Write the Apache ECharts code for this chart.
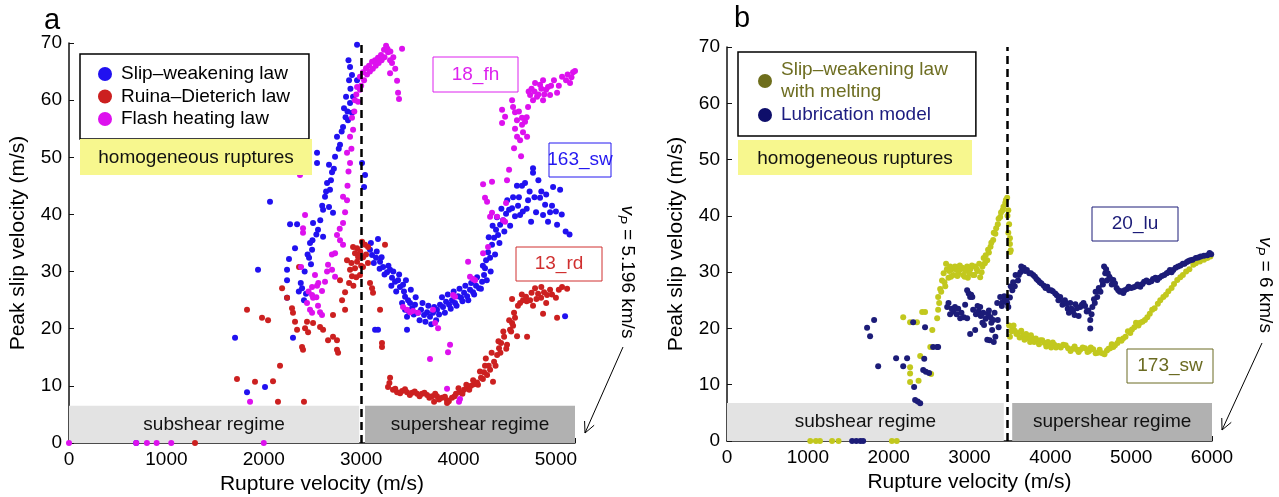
<!DOCTYPE html>
<html>
<head>
<meta charset="utf-8">
<script src="https://cdn.jsdelivr.net/npm/echarts@6/dist/echarts.min.js"></script>
<style>
html, body { margin: 0; padding: 0; background: #fff; }
#main { width: 1279px; height: 497px; }
</style>
</head>
<body>
<div id="main"></div>
<script>
// rupture speed limits (m/s)
var vsA = 3000, vpA = 5196;
var vsB = 3464, vpB = 6000;

// panel a : [rupture velocity, peak slip velocity]
var swPoints = [
    [690,0],[1705,18.4],[1828,8.9],[2013,9.8],[1941,30.3],[2064,42.2],
    [2958,69.7],[2886,65.8],[2906,64.4],[2876,63.5],[2958,63.5],[2845,60.6],[2917,60.6],[2886,59.5],
    [2824,58.6],[2906,57.8],[2865,56.5],[2814,55.3],[2752,53.6],[2783,52.2],[2732,50.1],
    [2547,50.8],[2547,49.0],[2670,48.7],[2701,47.4],[2650,45.5],[2680,44.3],[2629,43.1],
    [2609,40.8],[2670,41.3],[2711,40.3],[2270,38.3],[2342,38.3],[2506,38.5],[2557,37.3],
    [2609,36.1],[2475,35.0],[2496,33.8],[2321,34.1],[2465,32.4],[2485,31.3],[2259,32.2],
    [2239,30.3],[2239,28.5],[2393,27.1],[2434,26.1],[2413,25.0],[2239,25.4],[2300,18.4],
    [2870,67],[2890,62],[2860,58],[2840,57],[2800,54.5],[2770,51.5],[2720,48],[2690,46],
    [2640,44],[2600,41.5],[2580,39],[2540,36.5],[2500,35.5],[2450,33],[2420,30],[2380,28],[2360,26.5],
    [3009,49.0],[3040,46.9],[3030,44.8],[3143,19.8],
    [3091,33.8],[3112,32.9],[3173,35.7],[3153,32.4],[3194,31.7],[3225,30.8],[3266,29.9],
    [3297,30.3],[3317,28.9],[3348,28.2],[3379,28.5],[3399,27.3],[3430,27.7],[3451,25.6],
    [3482,25.0],[3502,24.5],[3451,23.3],[3523,23.6],[3471,22.1],[3553,24.2],[3584,22.8],
    [3615,23.3],[3646,22.4],[3677,22.9],[3707,22.1],[3738,22.8],[3779,23.3],[3810,24.2],
    [3841,23.8],[3872,24.7],[3903,24.2],[3933,25.0],[3964,24.5],[3995,25.7],[4026,25.4],
    [4057,26.3],[4088,25.7],[4118,26.8],[4149,26.4],[4180,27.5],[4211,27.1],[4242,28.2],
    [4262,29.4],[4272,30.6],[4283,32.0],[4303,33.4],[4324,32.4],[4344,34.7],[4365,35.9],
    [4385,37.3],[4406,36.4],[4427,38.2],[4457,39.0],[4488,40.1],[4519,40.8],[4550,41.1],
    [4580,39.7],[4611,41.5],[4632,39.9],[4652,45.0],[4683,45.5],[4714,42.5],[4765,48.1],
    [4765,47.3],[4745,38.7],[4796,40.4],[4837,42.9],[4868,39.9],[4889,41.7],[4919,38.7],
    [4940,40.4],[4971,44.8],[5012,38.2],[5043,44.3],[5094,22.2],[3173,19.8],[3471,19.8],
    [3100,35.0],[3130,31.5],[3160,33.5],[3190,30.5],[3210,32.5],[3240,29.5],[3280,31],
    [3310,27.5],[3330,30],[3360,26.5],[3390,29.5],[3420,24.5],[3440,26.5],[3460,28.5],
    [3490,23],[3510,26.8],[3540,22.5],[3560,25.5],[3600,21.5],[3630,24.5],[3660,21.2],
    [3690,24],[3720,20.8],[3750,23.8],[3770,21.5],[3800,22.5],[3830,25.5],[3860,22.8],
    [3890,26],[3920,23.5],[3950,26.5],[3980,24],[4010,27],[4040,24.8],[4070,27.5],
    [4100,25],[4130,28],[4160,26],[4190,29],[4230,27],[4250,31],[4290,28.5],[4310,36],
    [4330,30],[4350,38],[4375,33],[4395,39.5],[4420,35],[4440,41],[4470,37],[4500,42.5],
    [4530,38],[4560,43],[4600,45],[4620,43],[4660,40.5],[4700,41],[4730,44],[4780,43],
    [4820,46],[4850,44],[4900,43.5],[4960,41.5],[5000,40.5],[5060,40],[5100,37],[5140,36.5]
];

var rdPoints = [
    [1294,0],[1725,11.2],[1910,10.7],[2095,10.8],[2146,7.2],[2413,7.2],[1828,23.3],
    [1982,21.9],[2044,21.5],[2167,13.5],[2188,27.1],[2239,25.4],[2290,23.6],[2300,22.8],
    [2321,21.2],[2342,19.8],[2362,30.8],[2393,16.8],[2403,16.3],[2424,20.1],[2444,21.2],
    [2455,19.4],[2506,21.0],[2578,20.3],[2609,19.8],[2660,18.0],[2711,18.6],[2711,22.4],
    [2752,18.0],[2752,16.3],[2763,15.8],[2783,28.5],[2804,25.0],[2835,23.3],[2835,26.4],
    [2855,32.0],[2876,28.0],[2886,30.3],[2906,29.2],[2937,30.6],[2937,33.2],[2958,31.7],
    [2958,34.1],[2988,29.4],[3009,35.2],[3040,34.7],[3071,34.3],
    [2900,31.5],[2920,27.5],[2950,29],[2970,32.5],[2990,33.5],[3000,31],[3020,32.5],[3050,33],[3070,31.5],
    [2917,34.3],[2968,32.9],[3019,30.8],[3091,28.0],[3122,26.3],[3112,27.1],[3245,34.7],
    [3194,23.3],[3214,17.5],[3214,16.8],[3297,11.4],[3276,9.8],[3327,9.3],[3369,8.9],
    [3420,9.1],[3471,8.9],[3523,8.8],[3574,8.6],[3625,8.6],[3677,8.4],[3728,8.2],
    [3779,8.2],[3831,7.9],[3882,7.5],[3933,7.9],[3749,7.2],[3882,7.0],[3974,8.6],
    [4015,8.9],[4057,9.3],[4098,9.6],[4129,10.0],[4160,10.3],[4200,10.2],[4231,11.4],
    [4262,12.4],[4272,13.5],[4293,11.9],[4324,12.8],[4354,10.7],[4365,14.2],[4396,15.4],
    [4416,16.6],[4437,17.5],[4468,18.6],[4498,17.2],[4529,19.8],[4550,21.0],[4560,20.5],
    [4580,21.9],[4601,18.7],[4550,25.2],[4632,24.5],[4662,25.0],[4704,18.6],[4693,25.6],
    [4735,25.0],[4765,24.0],[4786,27.1],[4817,26.1],[4848,25.4],[4878,26.4],[4909,25.9],
    [4940,26.8],[4868,22.6],[5012,21.9],[5063,27.3],[5115,27.0],
    [3290,10.5],[3350,9.5],[3400,8.7],[3450,9.4],[3500,8.4],[3550,9.0],[3600,8.2],[3650,8.8],
    [3700,7.9],[3760,8.6],[3800,7.6],[3860,8.1],[3900,7.3],[3960,8.2],[4000,9.6],[4040,8.6],
    [4080,10.2],[4110,9.3],[4150,11],[4190,10.6],[4220,12.5],[4250,11.2],[4280,14.8],[4310,13.5],
    [4340,15.8],[4380,13.5],[4410,17.8],[4430,15.8],[4460,19.5],[4490,16.5],[4520,21.5],[4540,19.5],
    [4570,22.8],[4610,24],[4650,26],[4700,24.8],[4750,26.3],[4800,25.2],[4850,27.3],[4900,24.5],
    [4960,26],[5000,25.4],[5030,26.8]
];

var fhPoints = [
    [0,0],[690,0],[800,0],[900,0],[1050,0],[2000,0],[1859,7.2],
    [2372,46.9],[2814,43.1],[2855,42.5],[2835,40.4],[2424,39.9],[2814,38.5],[2855,50.8],
    [2886,49.0],[2886,53.6],[2906,56.9],[2917,54.8],[2937,60.0],[2968,59.7],[2958,62.3],
    [2988,61.8],[2403,37.6],[2403,36.8],[2752,36.4],[2783,35.5],[2814,34.7],[2732,33.2],
    [2660,31.2],[2701,30.3],[2732,29.1],[2629,28.2],[2526,29.4],[2496,27.3],[2547,27.5],
    [2598,26.6],[2496,25.9],[2506,25.4],[2444,24.5],[2475,23.3],[2496,22.8],[2557,24.0],
    [2578,22.9],[2598,22.4],[2383,30.8],
    [2860,45],[2870,47.5],[2900,51.5],[2930,58],[2950,61],[2780,37.5],[2700,33],[2650,30],
    [2560,28],[2460,26.5],[2540,25.5],
    [2988,64.1],[3019,64.9],[3050,65.6],[3081,66.0],[3112,66.7],[3143,67.0],[3173,67.4],
    [3204,67.9],[3235,68.8],[3256,69.5],[3276,68.4],[3297,67.0],[3317,66.5],[3297,64.7],
    [3369,63.4],[3379,61.3],[3389,60.2],[3420,69.0],
    [3000,62.5],[3030,63.5],[3060,64.5],[3090,65],[3120,65.5],[3150,66],[3180,66.5],
    [3210,67],[3240,67.5],[3270,69],[3300,68.5],[3330,67.5],[3350,65.5],
    [3430,23.8],[3471,23.3],[3502,22.9],[3533,23.1],[3584,22.8],[3738,23.3],[3759,21.0],
    [3790,20.1],[3913,17.2],[3892,15.9],[3707,14.7],[3882,9.5],[4015,7.7],[4005,7.2],
    [3944,25.9],[3964,25.6],[4098,31.7],[4118,29.1],[4149,28.7],[4170,28.5],[4252,33.2],
    [4303,34.3],[4324,39.6],[4396,39.6],[4457,39.0],[4478,38.7],[4344,40.3],[4272,42.9],
    [4293,42.2],[4252,45.3],[4344,45.7],[4488,42.0],[4498,46.0],[4519,47.8],[4447,58.3],
    [4447,56.0],[4478,57.1],[4550,60.0],[4560,58.8],[4580,57.9],[4652,56.9],[4683,56.2],
    [4652,55.7],[4662,54.4],[4601,53.6],[4632,53.0],[4704,53.6],[4570,51.6],[4642,50.2],
    [4786,63.0],[4735,60.9],[4714,58.8],[4765,60.0],[4806,60.6],[4837,62.7],[4868,63.5],
    [4899,61.8],[4919,62.3],[4940,60.9],[4868,60.0],[5012,61.3],[5063,64.1],[5104,63.5],
    [5145,63.0],[5176,64.9],[5196,65.1],
    [4580,55],[4600,56.5],[4620,58],[4700,57],[4720,61.5],[4750,62],[4780,61.5],[4820,61],
    [4850,62],[4880,61],[4950,62.5],[4980,63.5],[5030,62.5],[5120,64.5],[5160,64]
];

// panel b
var swmPoints = [
    [1030,0],[1100,0],[1150,0],[1300,0],[1380,0],[2040,0],[2100,0],
    [2180,22],[2265,21.1],[2350,21.1],[2415,22.9],[2450,22.9],[2540,19.7],[2600,21.8],
    [2612,23.3],[2515,16.7],[2265,13.1],[2265,12],[2265,10.5],[2390,15.1],[2370,10.7],
    [2525,11.9],[2612,25.6],[2637,27],[2660,28.5],[2680,29.8],[2700,27.5],[2720,30.5],
    [2740,29],[2760,31],[2780,30.5],[2800,29.5],[2830,30.5],[2860,29.8],[2890,30.5],
    [2920,29.5],[2950,30.2],[2980,29],[3010,30.5],[3045,29.5],[3070,31],[3100,30.2],
    [3132,29.1],[3160,31],[3190,31.6],[3219,32.1],[3240,33.5],[3260,34.5],[3293,35.7],
    [3320,36.8],[3350,38.5],[3380,39.8],[3410,41],[3442,42.3],[3466,43.2],[3480,41],
    [3490,38.5],[3500,36],[3510,33.9],[3503,33.6],[3500,18.5],
    [2625,24.5],[2650,26.5],[2690,28.2],[2710,31.5],[2750,30.2],[2770,29.2],[2820,31],
    [2850,29.3],[2880,31.2],[2910,30.8],[2940,29.2],[2970,31],[3000,29.8],[3030,31.2],
    [3060,29.5],[3090,30.5],[3120,31.5],[3150,30],[3175,32.5],[3200,33],[3230,34],
    [3270,35.2],[3300,37],[3330,37.8],[3360,39.5],[3390,40.6],[3420,41.6],[3450,42.8],
    [3470,40],[3480,37],[3500,35],
    [3490,20.5],[3528,20.2],[3560,19.6],[3600,19.2],[3664,18.8],[3720,18.3],[3780,18.2],
    [3840,17.8],[3875,17.9],[3930,17.4],[3990,17.2],[4050,17.1],[4100,16.9],[4160,17.1],
    [4220,16.5],[4280,16.4],[4330,16.2],[4370,16.2],[4430,16.5],[4480,16.0],[4530,16.3],
    [4590,15.7],[4642,15.6],[4700,16.1],[4740,16.5],[4779,16.7],[4830,17.4],[4880,17.8],
    [4930,18.5],[4989,19.2],[5040,20.2],[5090,20.5],[5140,21.2],[5200,22.0],[5260,23.3],
    [5330,24.4],[5398,25.6],[5460,26.6],[5530,27.9],[5608,29.1],[5680,30.1],[5769,31.3],
    [5850,31.9],[5943,32.5],
    [3520,19.5],[3545,20.5],[3580,19.0],[3620,18.4],[3640,19.6],[3680,18.0],[3700,19.0],
    [3750,17.6],[3760,18.8],[3800,17.6],[3820,18.2],[3860,17.2],[3900,17.9],[3950,16.8],
    [3970,17.6],[4010,16.6],[4030,17.5],[4070,16.6],[4130,16.6],[4190,17.0],[4250,16.0],
    [4300,16.8],[4350,15.8],[4400,16.6],[4460,15.8],[4500,16.6],[4560,15.6],[4610,16.2],
    [4670,15.4],[4720,16.4],[4760,17.2],[4800,17.0],[4850,18.0],[4900,18.2],[4960,19.5],
    [5010,19.8],[5060,21.0],[5110,21.0],[5170,21.5],[5230,22.6],[5290,23.6],[5360,25.0],
    [5430,26.0],[5500,27.2],[5570,28.6],[5640,29.5],[5720,30.5],[5800,31.6],[5900,32.2],[5980,32.8]
];

var luPoints = [
    [1548,0],[1600,0],[1650,0],[1684,0],
    [1733,20.1],[1820,21.5],[1770,18.6],[1870,13.3],[2092,14.7],[2180,13.3],[2228,14.7],
    [2303,21.1],[2315,9.6],[2327,7.3],[2360,7.0],[2390,6.7],[2427,12.6],[2440,14.6],
    [2450,20.2],[2460,12.3],[2500,12.1],[2550,16.7],[2600,16.7],[2612,16.7],
    [2724,23.8],[2760,22.5],[2800,23],[2840,22.5],[2885,21.8],[2860,23.5],[2946,24.2],
    [2971,26.8],[2990,26.2],[3008,25.6],[2971,21.8],[3008,19.0],[3035,25.6],[3070,19.7],
    [3045,23.3],[3080,22.5],[3110,23],[3140,22.2],[3170,22.8],[3200,21.7],[3230,22.5],
    [3260,22],[3293,21.5],[3180,20.6],[3280,19.7],[3300,17.6],[3320,18.5],[3343,24.5],
    [3360,20.2],[3380,25.6],[3410,24.7],[3440,25.2],[3466,24.5],[3480,23.8],[3500,25.5],
    [3132,23.8],[3160,21],[3220,18],[3250,17.9],
    [2740,24.5],[2780,23.5],[2820,23.8],[2900,22.8],[2930,22],[3020,26],[3100,24],
    [3150,22.5],[3240,23.2],[3270,21],[3310,22.8],[3400,24],[3430,25.7],[3450,25],[3350,21.5],
    [3530,26.8],[3560,27.5],[3600,28.5],[3630,30],[3652,30.4],[3690,30.2],[3740,29.8],
    [3788,29.5],[3830,28.8],[3870,28.2],[3920,27.6],[3962,27.4],[4010,26.8],[4060,26.2],
    [4122,25.6],[4150,24.2],[4180,25],[4215,23.5],[4246,24.5],[4280,23],[4310,24.3],
    [4370,23.8],[4410,24.5],[4450,23],[4494,21.5],[4520,23.8],[4550,24.5],[4580,25.6],
    [4620,26.5],[4650,27.8],[4679,29.8],[4700,28.5],[4730,29.2],[4760,27.8],[4779,28.6],
    [4820,27.2],[4860,26.5],[4903,26.3],[4950,27],[5000,27.2],[5060,27.5],[5113,27.4],
    [5160,28.3],[5220,28.2],[5270,28.8],[5323,28.6],[5380,29.3],[5440,29.8],[5480,30.4],
    [5521,30.4],[5580,31],[5640,31.5],[5690,31.8],[5732,32.1],[5800,32.5],[5860,32.8],
    [5943,33],[5990,33.2],
    [3480,25.5],[3510,27.5],[3540,28.2],[3570,29.5],[3610,29.5],[3640,31],[3670,30.8],
    [3710,30.4],[3760,29.8],[3810,29.2],[3850,28.5],[3890,28],[3940,27.2],[3985,26.8],
    [4030,26.6],[4080,25.9],[4100,25],[4160,24.8],[4200,24.4],[4230,22.8],[4260,23.5],
    [4300,22.4],[4330,23.6],[4350,22.2],[4390,24.2],[4430,24],[4470,23.2],[4494,20],
    [4510,22.5],[4540,25.2],[4560,26.5],[4600,27.2],[4640,28.5],[4665,31],[4690,30.5],
    [4710,29.8],[4745,28.8],[4800,28],[4840,26.8],[4880,26.6],[4920,26.8],[4970,27.4],
    [5030,27.3],[5080,27.8],[5140,27.9],[5190,28.5],[5250,28.4],[5300,29],[5350,29],
    [5410,29.5],[5460,30],[5500,30],[5550,30.8],[5610,31.2],[5660,31.5],[5710,32],
    [5760,32.2],[5830,32.6],[5900,32.9],[5970,33.4]
];

var FONT = 'Liberation Sans';

function xAxisCfg(grid, max) {
    return {
        gridIndex: grid, type: 'value', min: 0, max: max, interval: 1000,
        name: 'Rupture velocity (m/s)', nameLocation: 'middle', nameGap: 30,
        nameTextStyle: { fontSize: 21, color: '#000', fontFamily: FONT },
        axisLine: { show: true, onZero: false, lineStyle: { color: '#111', width: 1.5 } },
        axisTick: { show: true, inside: true, length: 5, lineStyle: { color: '#111' } },
        axisLabel: { fontSize: 19, color: '#000', fontFamily: FONT, margin: 7,
            formatter: function (v) { return v % 1000 === 0 ? v : ''; } },
        splitLine: { show: false }
    };
}
function yAxisCfg(grid) {
    return {
        gridIndex: grid, type: 'value', min: 0, max: 70, interval: 10,
        name: 'Peak slip velocity (m/s)', nameLocation: 'middle', nameGap: 40,
        nameTextStyle: { fontSize: 21, color: '#000', fontFamily: FONT },
        axisLine: { show: true, onZero: false, lineStyle: { color: '#111', width: 1.5 } },
        axisTick: { show: true, inside: true, length: 5, lineStyle: { color: '#111' } },
        axisLabel: { fontSize: 19, color: '#000', fontFamily: FONT, margin: 7 },
        splitLine: { show: false }
    };
}
function regimes(vs, vmax, gapL, gapR, top) {
    var lab = { show: true, position: 'inside', fontSize: 19, color: '#111', fontFamily: FONT };
    return {
        silent: true,
        data: [
            [{ xAxis: 0, yAxis: 0, itemStyle: { color: '#e3e3e3', opacity: 1 }, label: Object.assign({ formatter: 'subshear regime' }, lab) },
             { xAxis: vs - gapL, yAxis: top }],
            [{ xAxis: vs + gapR, yAxis: 0, itemStyle: { color: '#b1b1b1', opacity: 1 }, label: Object.assign({ formatter: 'supershear regime' }, lab) },
             { xAxis: vmax, yAxis: top }]
        ]
    };
}
function vsLine(vs) {
    return {
        silent: true, symbol: ['none', 'none'], label: { show: false },
        lineStyle: { type: [8, 5], color: '#000', width: 2.5 },
        data: [{ xAxis: vs }]
    };
}
function scatter(name, data, color, grid, extra) {
    var s = {
        name: name, type: 'scatter', xAxisIndex: grid, yAxisIndex: grid,
        data: data, symbolSize: 6, itemStyle: { color: color, opacity: 1 }
    };
    return Object.assign(s, extra || {});
}

function tag(text, x, y, w, h, color) {
    return [
        { type: 'rect', z: 100, shape: { x: x, y: y, width: w, height: h },
          style: { fill: '#fff', stroke: color, lineWidth: 1 } },
        { type: 'text', z: 101, x: x + w / 2, y: y + h / 2,
          style: { text: text, align: 'center', verticalAlign: 'middle', fill: color, fontSize: 19, fontFamily: FONT } }
    ];
}
function yellow(x, y, w, h) {
    return [
        { type: 'rect', z: 100, shape: { x: x, y: y, width: w, height: h }, style: { fill: '#f7f78e' } },
        { type: 'text', z: 101, x: x + w / 2, y: y + h / 2 + 1,
          style: { text: 'homogeneous ruptures', align: 'center', verticalAlign: 'middle', fill: '#111', fontSize: 19, fontFamily: FONT } }
    ];
}
function arrow(x1, y1, x2, y2) {
    var dx = x2 - x1, dy = y2 - y1, len = Math.sqrt(dx * dx + dy * dy);
    var ux = dx / len, uy = dy / len, h = 12, a = 0.45;
    var c = Math.cos(a), s = Math.sin(a);
    var p1 = [x2 - h * (ux * c - uy * s), y2 - h * (uy * c + ux * s)];
    var p2 = [x2 - h * (ux * c + uy * s), y2 - h * (uy * c - ux * s)];
    return [
        { type: 'line', z: 100, shape: { x1: x1, y1: y1, x2: x2, y2: y2 }, style: { stroke: '#000', lineWidth: 1 } },
        { type: 'polyline', z: 100, shape: { points: [p1, [x2, y2], p2] }, style: { stroke: '#000', fill: null, lineWidth: 1 } }
    ];
}
function vpText(txt, x, y) {
    return {
        type: 'text', z: 100, x: x, y: y, rotation: -Math.PI / 2,
        style: {
            text: '{v|v}{p|P}{n| = ' + txt + '}', align: 'center', verticalAlign: 'middle',
            rich: {
                v: { fontSize: 19, fontStyle: 'italic', fontFamily: FONT, fill: '#000', lineHeight: 24 },
                p: { fontSize: 13, fontStyle: 'italic', fontFamily: FONT, fill: '#000', verticalAlign: 'bottom', lineHeight: 24, padding: [10, 0, 0, 0] },
                n: { fontSize: 19, fontFamily: FONT, fill: '#000', lineHeight: 24 }
            }
        }
    };
}

var graphics = [].concat(
    [{ type: 'text', z: 100, x: 52, y: 21, style: { text: 'a', align: 'center', verticalAlign: 'middle', fontSize: 29, fontFamily: FONT, fill: '#000' } },
     { type: 'text', z: 100, x: 742, y: 19, style: { text: 'b', align: 'center', verticalAlign: 'middle', fontSize: 29, fontFamily: FONT, fill: '#000' } }],
    yellow(80, 139, 232, 36),
    yellow(738, 140, 234, 35),
    tag('18_fh', 433, 57, 85, 35, '#dd22ee'),
    tag('163_sw', 549, 143, 62, 34, '#2418f0'),
    tag('13_rd', 516, 247, 86, 34, '#d03030'),
    tag('20_lu', 1092, 207, 86, 34, '#1c1c78'),
    tag('173_sw', 1127, 349, 86, 34, '#6b6b22'),
    [vpText('5.196 km/s', 627, 272), vpText('6 km/s', 1265, 285)],
    arrow(623, 347, 585, 433),
    arrow(1262, 343, 1222, 430)
);

var legendText = { fontSize: 19, fontFamily: FONT, color: '#000', lineHeight: 22, padding: [0, 0, 0, 4] };

var option = {
    backgroundColor: '#fff',
    animation: false,
    grid: [
        { left: 69, top: 43, width: 506, height: 400, outerBoundsMode: 'none', containLabel: false },
        { left: 727, top: 47, width: 485, height: 394, outerBoundsMode: 'none', containLabel: false }
    ],
    legend: [
        {
            left: 80, top: 54, orient: 'vertical', selectedMode: false,
            backgroundColor: '#fff', borderColor: '#000', borderWidth: 1.5,
            padding: [9, 19, 9, 18], itemGap: 0.5, itemWidth: 14, itemHeight: 14,
            icon: 'circle', textStyle: legendText,
            data: ['Slip–weakening law', 'Ruina–Dieterich law', 'Flash heating law']
        },
        {
            left: 738, top: 52, orient: 'vertical', selectedMode: false,
            backgroundColor: '#fff', borderColor: '#000', borderWidth: 1.5,
            padding: [7, 28, 10, 20], itemGap: 1, itemWidth: 14, itemHeight: 14,
            icon: 'circle', textStyle: legendText,
            data: [
                { name: 'Slip–weakening law\nwith melting', itemStyle: { color: '#6e6e1c' }, textStyle: { color: '#6e6e22' } },
                { name: 'Lubrication model', itemStyle: { color: '#0e0e6a' }, textStyle: { color: '#1c1c80' } }
            ]
        }
    ],
    xAxis: [xAxisCfg(0, vpA), xAxisCfg(1, vpB)],
    yAxis: [yAxisCfg(0), yAxisCfg(1)],
    series: [
        scatter('Slip–weakening law', swPoints, '#2111f0', 0, {
            markArea: regimes(vsA, vpA, 20, 40, 6.5),
            markLine: vsLine(vsA)
        }),
        scatter('Ruina–Dieterich law', rdPoints, '#cc2020', 0),
        scatter('Flash heating law', fhPoints, '#dd11ee', 0),
        scatter('Slip–weakening law\nwith melting', swmPoints, '#c2c81e', 1, {
            markArea: regimes(vsB, vpB, 40, 64, 6.75),
            markLine: vsLine(vsB)
        }),
        scatter('Lubrication model', luPoints, '#1c1c78', 1)
    ],
    graphic: graphics
};

var chart = echarts.init(document.getElementById('main'));
chart.setOption(option);
</script>
</body>
</html>
